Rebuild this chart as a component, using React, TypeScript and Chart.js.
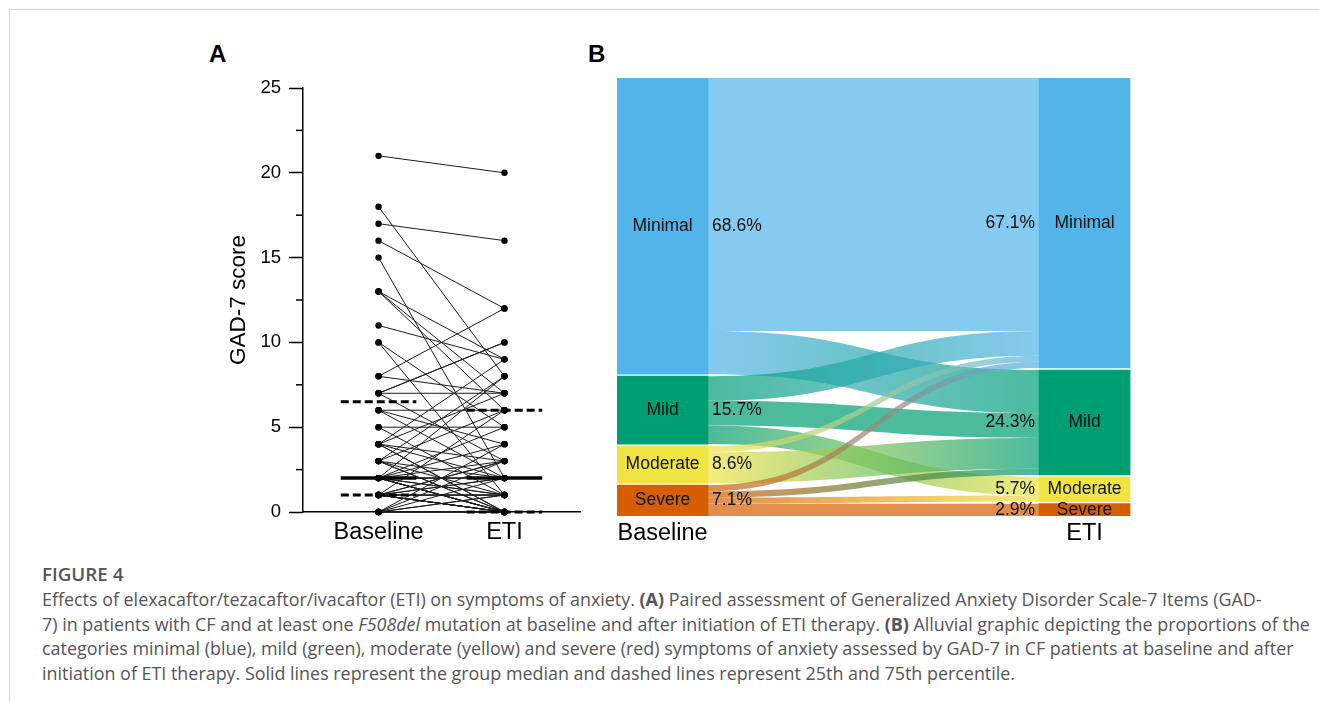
import React, { useEffect, useRef } from "react";
import { Chart, registerables } from "chart.js";
Chart.register(...registerables);

const FONT = '"Liberation Sans", Arial, Helvetica, sans-serif';
const CAPTION_FONT = '"Open Sans", "Noto Sans", sans-serif';

// ---------- data ----------
const timepoints = ["Baseline", "ETI"];

// paired GAD-7 scores per patient (same index = same patient)
const baselineScores = [
  21, 18, 17, 16, 15,
  13, 13, 13, 11, 10, 10,
  8, 8, 7, 7, 7, 7, 6, 6, 6, 5, 5,
  4, 3, 2, 4, 1, 3, 2,
  0, 0, 0, 0, 0, 0, 0, 0,
  1, 1, 1, 1, 1, 1, 1, 1, 1, 1, 1, 1, 1,
  2, 2, 2, 2, 2, 2, 2, 2, 2, 2, 2, 2,
  3, 3, 3, 3,
  4, 4, 4, 4,
];
const etiScores = [
  20, 8, 16, 12, 2,
  9, 7, 6, 9, 5, 1,
  12, 7, 10, 10, 7, 3, 6, 2, 4, 5, 1,
  9, 8, 8, 7, 6, 6, 5,
  0, 0, 0, 1, 1, 2, 3, 4,
  0, 0, 0, 0, 0, 0, 1, 1, 1, 2, 2, 3, 3,
  0, 0, 0, 0, 0, 1, 1, 2, 2, 2, 3, 4,
  0, 0, 1, 2,
  0, 0, 2, 3,
];

const medianScores = [2, 2];
const q1Scores = [1, 0];
const q3Scores = [6.5, 6];

const yTicksA = [0, 5, 10, 15, 20, 25];
const yMinorTicksA = [2.5, 7.5, 12.5, 17.5, 22.5];

const severityNames = ["Minimal", "Mild", "Moderate", "Severe"];
const severityLowerBounds = [0, 5, 10, 15];
const severityColors = ["#52B4E8", "#009E73", "#F0E442", "#D55E00"];

// ---------- helpers ----------
const SUMMARY_HALF = 0.3;
const FLOW_ALPHA = 0.7;
const NODE_GAP = 0.33; // spacing between alluvial nodes, in patient units

function category(v: number) {
  let c = 0;
  severityLowerBounds.forEach((b, i) => {
    if (v >= b) c = i;
  });
  return c;
}
function rgba(hex: string, a: number) {
  const n = parseInt(hex.slice(1), 16);
  return `rgba(${(n >> 16) & 255},${(n >> 8) & 255},${n & 255},${a})`;
}
function nodeStarts(arr: number[]) {
  const out: number[] = [];
  let s = 0;
  arr.forEach((v) => {
    out.push(s);
    s += v + NODE_GAP;
  });
  return out;
}

// ---------- Panel A ----------
const minorTicksPlugin = {
  id: "minorTicks",
  afterDraw(chart: any) {
    const y = chart.scales.y;
    const ctx = chart.ctx;
    const x = chart.chartArea.left;
    ctx.save();
    ctx.strokeStyle = "#000";
    ctx.lineWidth = 1.5;
    yMinorTicksA.forEach((v) => {
      const py = y.getPixelForValue(v);
      ctx.beginPath();
      ctx.moveTo(x - 7, py);
      ctx.lineTo(x, py);
      ctx.stroke();
    });
    ctx.restore();
  },
};

function PanelA() {
  const ref = useRef<HTMLCanvasElement>(null);
  useEffect(() => {
    const datasets: any[] = [];
    const summaries = [
      { values: medianScores, width: 3.5, dash: [] as number[] },
      { values: q1Scores, width: 3, dash: [8, 4] },
      { values: q3Scores, width: 3, dash: [8, 4] },
    ];
    summaries.forEach((s) =>
      s.values.forEach((v, i) =>
        datasets.push({
          data: [
            { x: i - SUMMARY_HALF, y: v },
            { x: i + SUMMARY_HALF, y: v },
          ],
          showLine: true,
          borderColor: "#000",
          borderWidth: s.width,
          borderDash: s.dash,
          borderCapStyle: "butt",
          pointRadius: 0,
          clip: false,
        })
      )
    );
    baselineScores.forEach((b, k) =>
      datasets.push({
        data: [
          { x: 0, y: b },
          { x: 1, y: etiScores[k] },
        ],
        showLine: true,
        borderColor: "#1c1c1c",
        borderWidth: 1,
        pointRadius: 3.2,
        pointBackgroundColor: "#000",
        pointBorderWidth: 0,
        clip: false,
      })
    );
    const chart = new Chart(ref.current as HTMLCanvasElement, {
      type: "scatter",
      data: { datasets },
      options: {
        animation: false,
        responsive: false,
        events: [],
        layout: { padding: { top: 58, right: 20, left: 0, bottom: 0 } },
        plugins: { legend: { display: false }, tooltip: { enabled: false } },
        scales: {
          x: {
            type: "linear",
            min: -0.6,
            max: 1.6,
            afterBuildTicks: (s: any) => {
              s.ticks = timepoints.map((_, i) => ({ value: i }));
            },
            ticks: {
              callback: (_v: any, i: number) => timepoints[i],
              font: { family: FONT, size: 23.5 },
              color: "#000",
              padding: 6,
              maxRotation: 0,
            },
            grid: { display: false, drawTicks: false },
            border: { display: true, color: "#000", width: 1.5 },
            afterFit: (s: any) => {
              s.height = 38;
            },
          },
          y: {
            type: "linear",
            min: 0,
            max: 25,
            afterBuildTicks: (s: any) => {
              s.ticks = yTicksA.map((v) => ({ value: v }));
            },
            ticks: {
              font: { family: FONT, size: 18.5 },
              color: "#000",
              padding: 8,
            },
            grid: {
              display: true,
              drawOnChartArea: false,
              drawTicks: true,
              tickLength: 14,
              tickWidth: 1.5,
              tickColor: "#000",
            },
            border: { display: true, color: "#000", width: 1.5 },
            title: {
              display: true,
              text: "GAD-7 score",
              font: { family: FONT, size: 22.5 },
              color: "#000",
              padding: { top: 35, bottom: 0 },
            },
            afterFit: (s: any) => {
              s.width = 113;
            },
          },
        },
      },
      plugins: [minorTicksPlugin],
    } as any);
    return () => chart.destroy();
  }, []);
  return (
    <canvas
      ref={ref}
      width={410}
      height={520}
      style={{ position: "absolute", left: 190, top: 30, width: 410, height: 520 }}
    />
  );
}

// ---------- Panel B ----------
function PanelB() {
  const ref = useRef<HTMLCanvasElement>(null);
  useEffect(() => {
    const n = severityNames.length;
    const baseCounts = severityNames.map((_, i) => baselineScores.filter((v) => category(v) === i).length);
    const etiCounts = severityNames.map((_, i) => etiScores.filter((v) => category(v) === i).length);
    const flows: number[][] = severityNames.map(() => severityNames.map(() => 0));
    baselineScores.forEach((b, k) => {
      flows[category(b)][category(etiScores[k])] += 1;
    });
    const total = baselineScores.length;
    const baseStart = nodeStarts(baseCounts);
    const etiStart = nodeStarts(etiCounts);
    const yMax = total + (n - 1) * NODE_GAP;
    const pct = (c: number) => ((c / total) * 100).toFixed(1) + "%";

    const barEdges = (chart: any) => {
      const meta = chart.getDatasetMeta(0);
      const b0 = meta.data[0].getProps(["x", "width"], true);
      const b1 = meta.data[1].getProps(["x", "width"], true);
      return { b0, b1, x0: b0.x + b0.width / 2, x1: b1.x - b1.width / 2 };
    };

    const flowPlugin = {
      id: "sankeyFlows",
      beforeDatasetsDraw(chart: any) {
        const { ctx } = chart;
        const y = chart.scales.y;
        const { x0, x1 } = barEdges(chart);
        const xm = (x0 + x1) / 2;
        const outOff = [...baseStart];
        const inOff = [...etiStart];
        ctx.save();
        for (let s = 0; s < n; s++) {
          for (let t = 0; t < n; t++) {
            const c = flows[s][t];
            if (!c) continue;
            const ya0 = y.getPixelForValue(outOff[s]);
            const yb0 = y.getPixelForValue(outOff[s] + c);
            const ya1 = y.getPixelForValue(inOff[t]);
            const yb1 = y.getPixelForValue(inOff[t] + c);
            outOff[s] += c;
            inOff[t] += c;
            const g = ctx.createLinearGradient(x0, 0, x1, 0);
            g.addColorStop(0, rgba(severityColors[s], FLOW_ALPHA));
            g.addColorStop(1, rgba(severityColors[t], FLOW_ALPHA));
            ctx.fillStyle = g;
            ctx.beginPath();
            ctx.moveTo(x0, ya0);
            ctx.bezierCurveTo(xm, ya0, xm, ya1, x1, ya1);
            ctx.lineTo(x1, yb1);
            ctx.bezierCurveTo(xm, yb1, xm, yb0, x0, yb0);
            ctx.closePath();
            ctx.fill();
          }
        }
        ctx.restore();
      },
      afterDatasetsDraw(chart: any) {
        const { ctx } = chart;
        const y = chart.scales.y;
        const { b0, b1, x0, x1 } = barEdges(chart);
        ctx.save();
        ctx.font = `17.5px ${FONT}`;
        ctx.fillStyle = "#111";
        ctx.textBaseline = "middle";
        for (let i = 0; i < n; i++) {
          const yb = y.getPixelForValue(baseStart[i] + baseCounts[i] / 2);
          const ye = y.getPixelForValue(etiStart[i] + etiCounts[i] / 2);
          ctx.textAlign = "center";
          ctx.fillText(severityNames[i], b0.x, yb);
          ctx.fillText(severityNames[i], b1.x, ye);
          ctx.textAlign = "left";
          ctx.fillText(pct(baseCounts[i]), x0 + 4, yb);
          ctx.textAlign = "right";
          ctx.fillText(pct(etiCounts[i]), x1 - 4, ye);
        }
        ctx.restore();
      },
    };

    const datasets = severityNames.map((name, i) => ({
      label: name,
      data: [
        { x: 0, y: [baseStart[i], baseStart[i] + baseCounts[i]] },
        { x: 1, y: [etiStart[i], etiStart[i] + etiCounts[i]] },
      ],
      backgroundColor: severityColors[i],
      borderWidth: 0,
      barThickness: 91,
    }));

    const chart = new Chart(ref.current as HTMLCanvasElement, {
      type: "bar",
      data: { datasets },
      options: {
        animation: false,
        responsive: false,
        events: [],
        layout: { padding: { top: 38, right: 29, left: 17, bottom: 0 } },
        plugins: { legend: { display: false }, tooltip: { enabled: false } },
        scales: {
          x: {
            type: "linear",
            stacked: true,
            offset: false,
            min: -0.108,
            max: 1.11,
            afterBuildTicks: (s: any) => {
              s.ticks = timepoints.map((_, i) => ({ value: i }));
            },
            ticks: {
              callback: (_v: any, i: number) => timepoints[i],
              font: { family: FONT, size: 23.5 },
              color: "#000",
              padding: 3,
              maxRotation: 0,
            },
            grid: { display: false, drawTicks: false },
            border: { display: false },
            afterFit: (s: any) => {
              s.height = 44;
            },
          },
          y: {
            type: "linear",
            reverse: true,
            min: 0,
            max: yMax,
            display: false,
          },
        },
      },
      plugins: [flowPlugin],
    } as any);
    return () => chart.destroy();
  }, []);
  return (
    <canvas
      ref={ref}
      width={560}
      height={520}
      style={{ position: "absolute", left: 600, top: 40, width: 560, height: 520 }}
    />
  );
}

// ---------- Caption ----------
function Caption() {
  const line: React.CSSProperties = { whiteSpace: "nowrap", fontSize: 17.9, lineHeight: "24.7px" };
  return (
    <div style={{ position: "absolute", left: 42, top: 562, fontFamily: CAPTION_FONT, color: "#555" }}>
      <div style={{ fontSize: 18.8, fontWeight: 600, lineHeight: "25px", color: "#555" }}>FIGURE 4</div>
      <div style={line}>
        Effects of elexacaftor/tezacaftor/ivacaftor (ETI) on symptoms of anxiety. <b>(A)</b> Paired assessment of
        Generalized Anxiety Disorder Scale-7 Items (GAD-
      </div>
      <div style={line}>
        7) in patients with CF and at least one <i>F508del</i> mutation at baseline and after initiation of ETI therapy.{" "}
        <b>(B)</b> Alluvial graphic depicting the proportions of the
      </div>
      <div style={line}>
        categories minimal (blue), mild (green), moderate (yellow) and severe (red) symptoms of anxiety assessed by GAD-7
        in CF patients at baseline and after
      </div>
      <div style={line}>
        initiation of ETI therapy. Solid lines represent the group median and dashed lines represent 25th and 75th
        percentile.
      </div>
    </div>
  );
}

export default function App() {
  return (
    <div
      style={{
        position: "absolute",
        left: 0,
        top: 0,
        width: 1319,
        height: 702,
        background: "#fff",
        overflow: "hidden",
        fontFamily: FONT,
      }}
    >
      <div
        style={{
          position: "absolute",
          left: 9,
          top: 9,
          right: 0,
          bottom: 0,
          borderTop: "1.5px solid #d4d4d4",
          borderLeft: "1.5px solid #d4d4d4",
        }}
      />
      <div style={{ position: "absolute", left: 209, top: 42, fontSize: 24, fontWeight: 700, lineHeight: "24px", color: "#000" }}>
        A
      </div>
      <div style={{ position: "absolute", left: 588, top: 42, fontSize: 24, fontWeight: 700, lineHeight: "24px", color: "#000" }}>
        B
      </div>
      <PanelA />
      <PanelB />
      <Caption />
    </div>
  );
}
